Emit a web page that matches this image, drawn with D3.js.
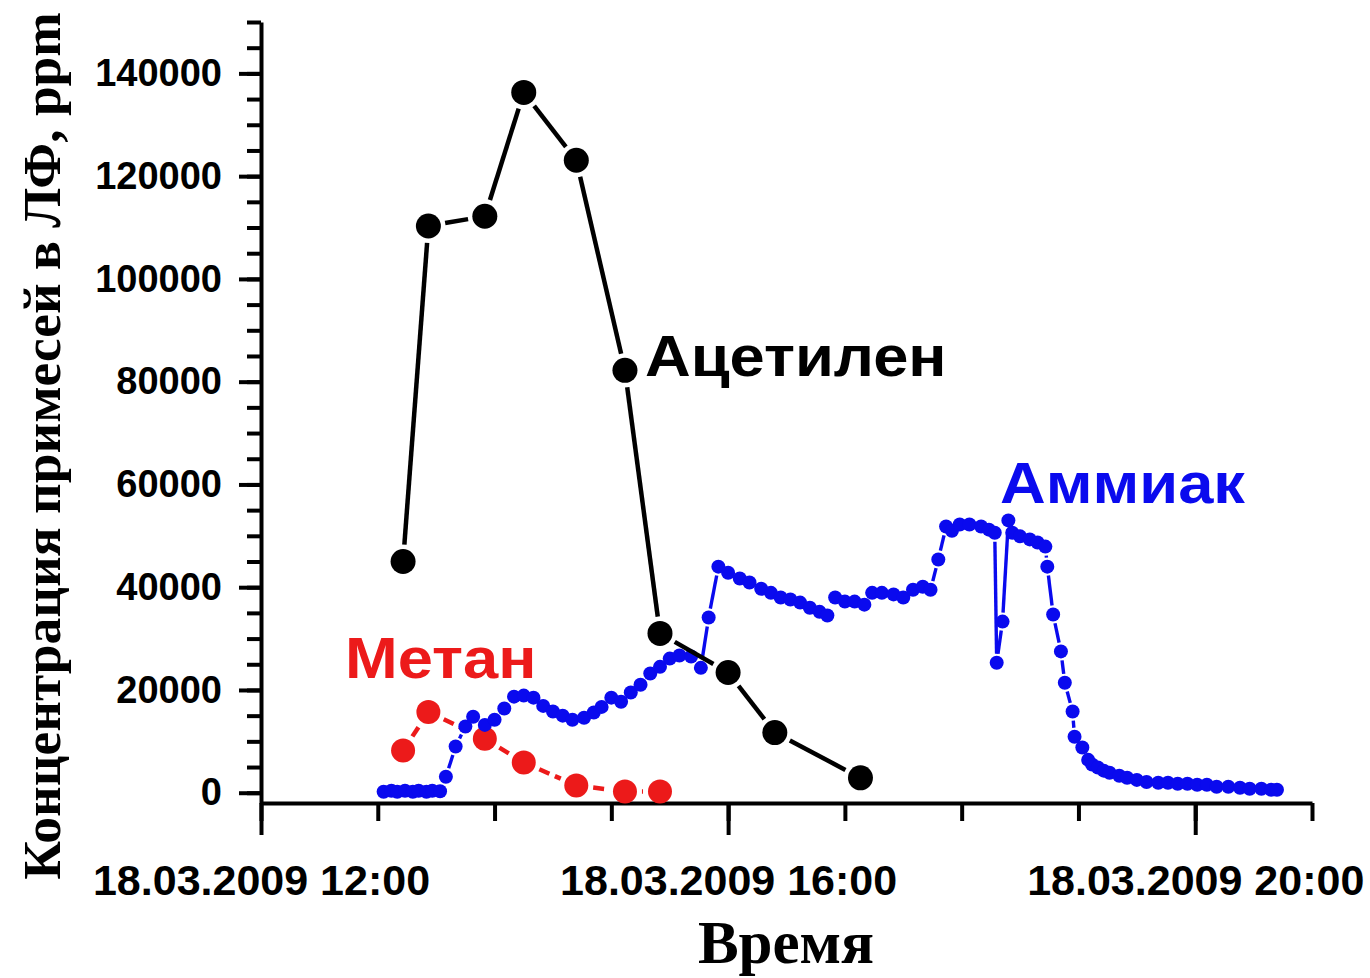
<!DOCTYPE html>
<html>
<head>
<meta charset="utf-8">
<script src="https://cdn.jsdelivr.net/npm/d3@7"></script>
<style>
  body { margin: 0; background: #fff; }
  svg { display: block; }
  .sans { font-family: "Liberation Sans", Arial, sans-serif; font-weight: bold; }
  .serif { font-family: "Liberation Serif", "Times New Roman", serif; font-weight: bold; }
</style>
</head>
<body>
<svg id="chart" width="1370" height="978"></svg>
<script>
// Measurement date and series (times are HH:MM on that date, values in ppm)
const day = "18.03.2009";

const acetyleneTimes  = ["13:13","13:26","13:55","14:15","14:42","15:07","15:25","16:00","16:24","17:08"];
const acetyleneValues = [45000, 110300, 112200, 136300, 123100, 82200, 31000, 23400, 11700, 2900];

const methaneTimes  = ["13:13","13:26","13:55","14:15","14:42","15:07","15:25"];
const methaneValues = [8200, 15700, 10500, 5900, 1400, 250, 250];

const ammoniaTimes = [
  "13:03","13:07","13:10","13:14","13:18","13:21","13:25","13:28","13:32","13:35",
  "13:40","13:45","13:49","13:55","14:00","14:05","14:10","14:15","14:20","14:25",
  "14:30","14:35","14:40","14:46","14:51","14:55","15:00","15:05","15:10","15:15",
  "15:20","15:25","15:30","15:35","15:41","15:46","15:50","15:55","16:00","16:06",
  "16:11","16:17","16:22","16:27","16:32","16:37","16:42","16:47","16:51","16:53",
  "16:55","17:00","17:05","17:10","17:14","17:19","17:25","17:30","17:35","17:40",
  "17:44","17:48","17:52","17:55","17:59","18:04","18:10","18:14","18:17","18:18",
  "18:21","18:24","18:26","18:30","18:35","18:39","18:43","18:44","18:47","18:51",
  "18:53","18:57","18:58","19:02","19:05","19:07","19:10","19:13","19:16","19:21",
  "19:25","19:30","19:35","19:41","19:46","19:51","19:56","20:01","20:06","20:11",
  "20:17","20:23","20:28","20:34","20:39","20:42"
];
const ammoniaValues = [
  195, 390, 195, 390, 195, 390, 195, 390, 300, 3100,
  9000, 12900, 14800, 13200, 14200, 16400, 18700, 18900, 18500, 16900,
  15800, 15000, 14200, 14600, 15600, 16700, 18500, 17700, 19500, 21000,
  23200, 24500, 26100, 26700, 26500, 24300, 34100, 44000, 42800, 41700,
  40900, 39700, 38900, 38000, 37600, 37000, 36000, 35200, 34500, null,
  38000, 37200, 37200, 36600, 38900, 38900, 38600, 38000, 39500, 40100,
  39500, 45400, 51800, 51000, 52200, 52200, 51800, 51200, 50600, 25300,
  33300, 53000, 50600, 49900, 49300, 48700, 47900, 44000, 34700, 27500,
  21400, 15800, 10900, 8800, 6400, 5500, 4900, 4300, 3900, 3300,
  2900, 2500, 2100, 1950, 1950, 1750, 1750, 1560, 1560, 1170,
  1170, 970, 780, 780, 580, 580
];

// Axis ticks
const yMajorTicks = [0, 20000, 40000, 60000, 80000, 100000, 120000, 140000];
const yMinorStep = 5000;
const xMajorHours = ["12:00", "16:00", "20:00"];

const parse = d3.timeParse("%d.%m.%Y %H:%M");
const at = t => parse(day + " " + t);

const svg = d3.select("#chart");

const x = d3.scaleTime().domain([at("12:00"), at("21:00")]).range([261, 1312]);
const y = d3.scaleLinear().domain([-2000, 150000]).range([803, 22]);

// ---- axes ----
const yMinor = d3.axisLeft(y).tickValues(d3.range(0, 150001, yMinorStep)).tickSize(14).tickFormat("");
const yMajor = d3.axisLeft(y).tickValues(yMajorTicks).tickSize(22).tickSizeOuter(0).tickPadding(17).tickFormat(d3.format("d"));
const xMinor = d3.axisBottom(x).tickValues(x.ticks(d3.timeHour.every(1))).tickSize(18).tickFormat("");
const xMajor = d3.axisBottom(x).tickValues(xMajorHours.map(at)).tickSize(32).tickSizeOuter(0).tickPadding(29)
  .tickFormat(d3.timeFormat("%d.%m.%Y %H:%M"));

function styleAxis(g, fontSize) {
  g.selectAll("path.domain").attr("stroke", "#000").attr("stroke-width", 4);
  g.selectAll(".tick line").attr("stroke", "#000").attr("stroke-width", 4);
  g.selectAll(".tick text").attr("class", "sans").attr("fill", "#000").style("font-size", fontSize + "px");
}

const gyMinor = svg.append("g").attr("transform", `translate(${x.range()[0]},0)`).call(yMinor);
gyMinor.select("path.domain").remove();
styleAxis(gyMinor, 10);
const gy = svg.append("g").attr("transform", `translate(${x.range()[0]},0)`).call(yMajor);
styleAxis(gy, 38);

const gxMinor = svg.append("g").attr("transform", `translate(0,${y.range()[0]})`).call(xMinor);
gxMinor.select("path.domain").remove();
styleAxis(gxMinor, 10);
const gx = svg.append("g").attr("transform", `translate(0,${y.range()[0]})`).call(xMajor);
styleAxis(gx, 43);

// ---- series ----
function toPoints(times, values) {
  return times.map((t, i) => ({ t: at(t), v: values[i] }));
}

// Line segments stop short of the markers, leaving a small gap around each symbol
function drawSeries(points, o) {
  const g = svg.append("g");
  const segs = [];
  for (let i = 0; i < points.length - 1; i++) {
    const a = points[i], b = points[i + 1];
    if (a.v == null || b.v == null) continue;
    const ax = x(a.t), ay = y(a.v), bx = x(b.t), by = y(b.v);
    const len = Math.hypot(bx - ax, by - ay);
    if (len <= 2 * o.gap) continue;
    const ux = (bx - ax) / len, uy = (by - ay) / len;
    segs.push({ x1: ax + ux * o.gap, y1: ay + uy * o.gap, x2: bx - ux * o.gap, y2: by - uy * o.gap });
  }
  g.selectAll("line").data(segs).join("line")
    .attr("x1", d => d.x1).attr("y1", d => d.y1)
    .attr("x2", d => d.x2).attr("y2", d => d.y2)
    .attr("stroke", o.color).attr("stroke-width", o.width)
    .attr("stroke-dasharray", o.dash || null);
  g.selectAll("circle").data(points.filter(p => p.v != null)).join("circle")
    .attr("cx", d => x(d.t)).attr("cy", d => y(d.v)).attr("r", o.r)
    .attr("fill", o.color);
}

const red = "#ec1a1a", blue = "#0a0aee";

drawSeries(toPoints(methaneTimes, methaneValues), { color: red, width: 4.5, r: 12, gap: 17 , dash: "11,6" });
drawSeries(toPoints(ammoniaTimes, ammoniaValues), { color: blue, width: 3.4, r: 7, gap: 9 });
drawSeries(toPoints(acetyleneTimes, acetyleneValues), { color: "#000", width: 4.5, r: 12.5, gap: 17 });

// ---- series names (slightly widened sans bold) ----
function seriesName(text, px, py, color) {
  svg.append("text").attr("class", "sans")
    .attr("transform", `translate(${px},${py}) scale(1.11,1)`)
    .style("font-size", "57px").attr("fill", color).text(text);
}
seriesName("Ацетилен", 645, 376, "#000");
seriesName("Метан", 345, 678, red);
seriesName("Аммиак", 1000, 503, blue);

// ---- axis titles ----
svg.append("text").attr("class", "serif").attr("text-anchor", "middle")
  .attr("x", 786).attr("y", 963).style("font-size", "61px").attr("fill", "#000").text("Время");
svg.append("text").attr("class", "serif").attr("text-anchor", "middle")
  .attr("transform", "translate(60,446) rotate(-90)")
  .style("font-size", "53.4px").attr("fill", "#000").text("Концентрация примесей в ЛФ, ppm");
</script>
</body>
</html>
